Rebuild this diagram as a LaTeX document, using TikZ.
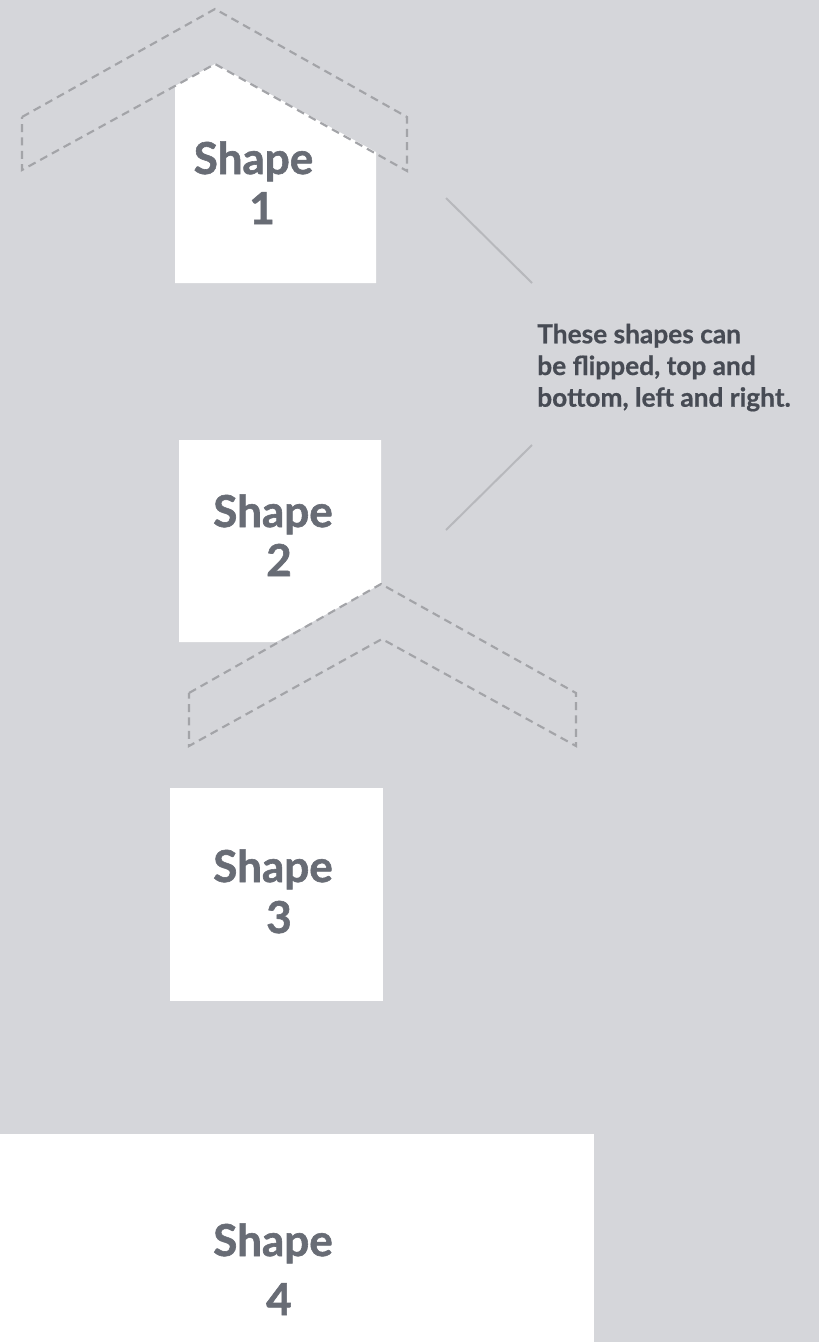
\documentclass[tikz,border=0pt]{standalone}
\usepackage{fontspec}
\setmainfont{Lato}
\newfontfamily\heavyfont{Lato}[BoldFeatures={FakeBold=1.3}]
\newfontfamily\semiheavyfont{Lato}[BoldFeatures={FakeBold=0.6}]
\definecolor{bg}{HTML}{D5D6DA}
\definecolor{shapetxt}{HTML}{686C75}
\definecolor{captxt}{HTML}{474B54}
\definecolor{dashgray}{HTML}{A3A4A8}
\definecolor{linegray}{HTML}{B7B8BC}
\begin{document}
\begin{tikzpicture}[x=0.75pt,y=-0.75pt,
  whiteshape/.style={fill=white,draw=none},
  chevron/.style={draw=dashgray,line width=1.6pt,dash pattern=on 6pt off 4pt,line join=miter},
  leader/.style={draw=linegray,line width=1.5pt},
  shapelabel/.style={anchor=base,text=shapetxt,font=\heavyfont\fontsize{33}{40}\selectfont\bfseries,inner sep=0pt},
  caption/.style={anchor=base west,text=captxt,font=\semiheavyfont\fontsize{19.7}{24}\selectfont\bfseries,inner sep=0pt}]
\useasboundingbox (0,0) rectangle (819,1342);
\fill[bg] (0,0) rectangle (819,1342);
% Shape 1
\path[whiteshape] (175,86) -- (215,64) -- (376,152) -- (376,283) -- (175,283) -- cycle;
\path[chevron] (22,117) -- (215,9) -- (407,117) -- (407,171) -- (215,64) -- (22,170) -- cycle;
\node[shapelabel] (s1a) at (253.5,174) {Shape};
\node[shapelabel] (s1b) at (262,224) {1};
% Shape 2
\path[whiteshape] (179,440) -- (381,440) -- (381,584) -- (276,642) -- (179,642) -- cycle;
\path[chevron] (189,693) -- (381,584) -- (576,693) -- (576,746) -- (382,639) -- (189,746) -- cycle;
\node[shapelabel] (s2a) at (273,527) {Shape};
\node[shapelabel] (s2b) at (279,576) {2};
% Shape 3
\path[whiteshape] (170,788) rectangle (383,1001);
\node[shapelabel] (s3a) at (273,882) {Shape};
\node[shapelabel] (s3b) at (279,933) {3};
% Shape 4
\path[whiteshape] (0,1134) rectangle (594,1342);
\node[shapelabel] (s4a) at (273,1256) {Shape};
\node[shapelabel] (s4b) at (279,1315) {4};
% Caption
\node[caption] (cap1) at (537,343.3) {These shapes can};
\node[caption] (cap2) at (537,375) {be flipped, top and};
\node[caption] (cap3) at (537,406.7) {bottom, left and right.};
% Leader lines
\coordinate (l1a) at (446,198);
\coordinate (l1b) at (532,283);
\coordinate (l2a) at (532,445);
\coordinate (l2b) at (446,530);
\draw[leader] (l1a) -- (l1b);
\draw[leader] (l2a) -- (l2b);
\end{tikzpicture}
\end{document}
